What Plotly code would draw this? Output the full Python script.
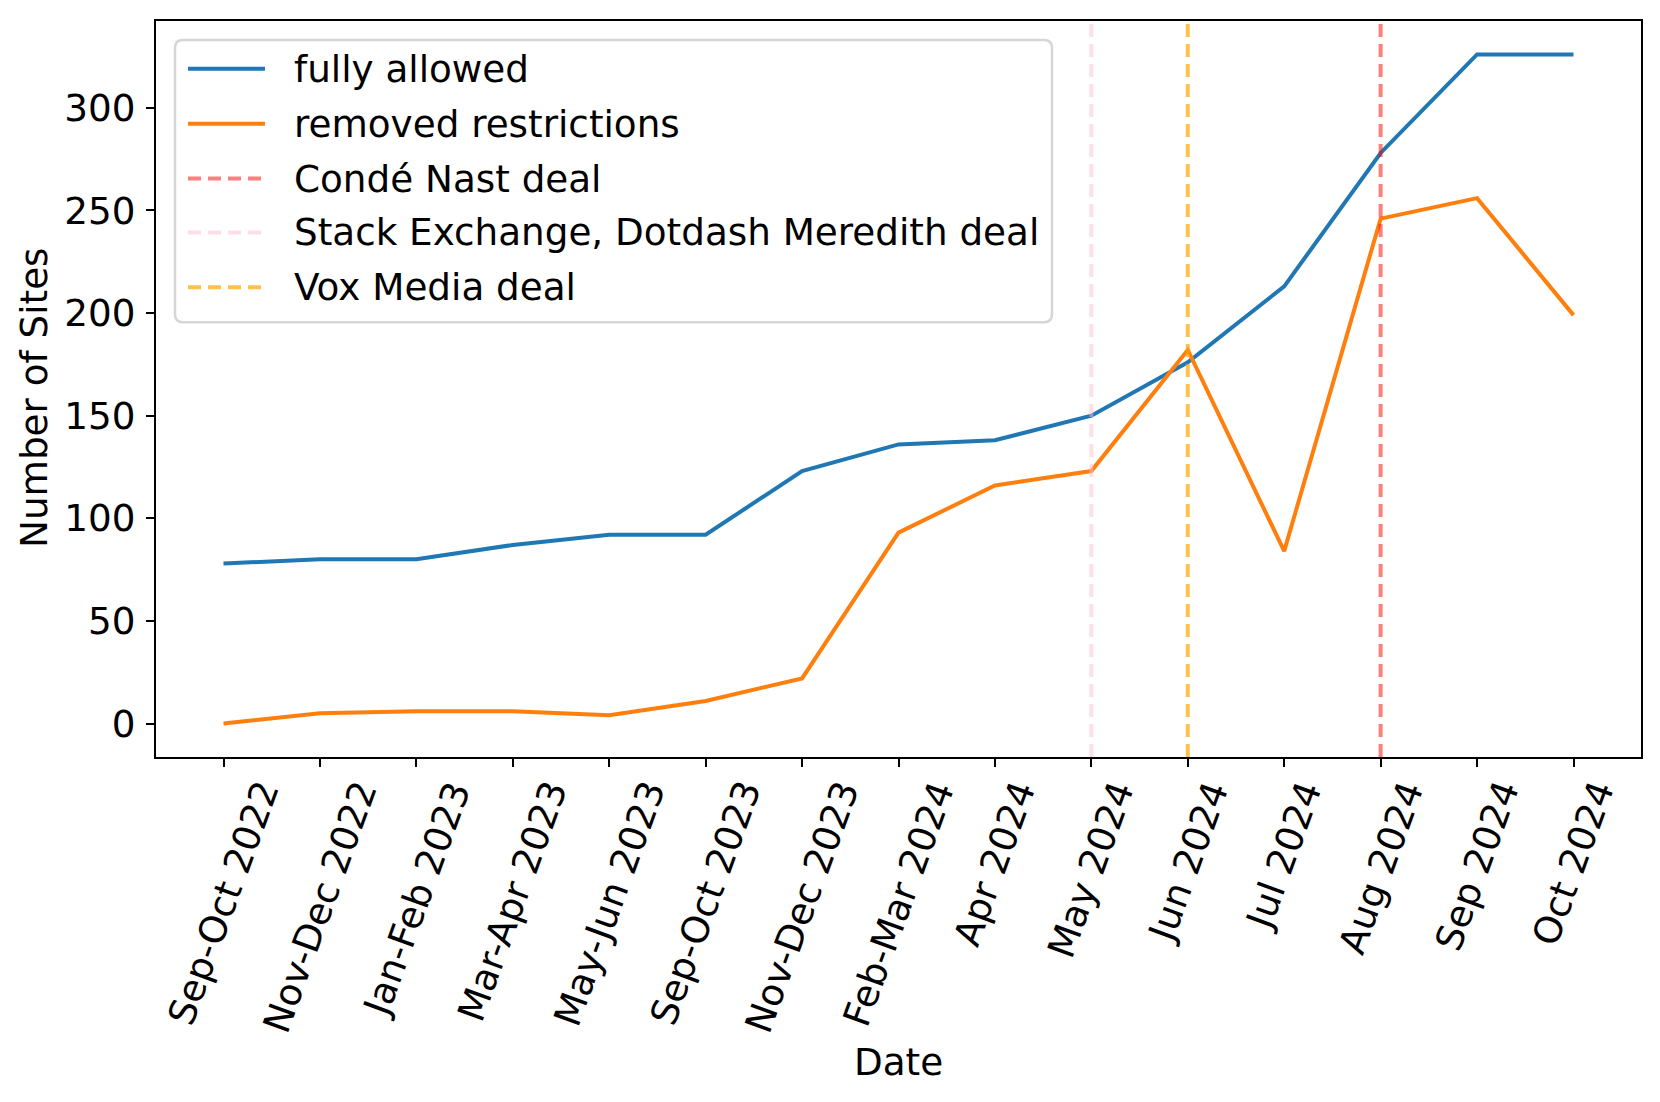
import plotly.graph_objects as go

# ---------------- data ----------------
dates = ["Sep-Oct 2022", "Nov-Dec 2022", "Jan-Feb 2023", "Mar-Apr 2023", "May-Jun 2023",
         "Sep-Oct 2023", "Nov-Dec 2023", "Feb-Mar 2024", "Apr 2024", "May 2024",
         "Jun 2024", "Jul 2024", "Aug 2024", "Sep 2024", "Oct 2024"]
fully_allowed = [78, 80, 80, 87, 92, 92, 123, 136, 138, 150, 176, 213, 278, 326, 326]
removed_restrictions = [0, 5, 6, 6, 4, 11, 22, 93, 116, 123, 182, 84, 246, 256, 199]

series_names = ["fully allowed", "removed restrictions"]
series_colors = ["#1f77b4", "#ff7f0e"]

event_names = ["Condé Nast deal", "Stack Exchange, Dotdash Meredith deal", "Vox Media deal"]
event_dates = ["Aug 2024", "May 2024", "Jun 2024"]
event_colors = ["rgba(255,0,0,0.5)", "rgba(255,192,203,0.5)", "rgba(255,165,0,0.7)"]

y_ticks = [0, 50, 100, 150, 200, 250, 300]

# ---------------- layout geometry (page pixels) ----------------
OFF = 8  # default body margin of the html page
W, H = 1652, 1094
ML, MR, MT, MB = 156 - OFF, 19, 19 - OFF, 345
PW, PH = W - ML - MR, H - MT - MB
FONT = "DejaVu Sans"
FS = 37.3


def px_x(p):
    return (p - OFF - ML) / PW


def px_y(p):
    return 1 - (p - OFF - MT) / PH


fig = go.Figure()
x_idx = list(range(len(dates)))
for name, vals, col in zip(series_names, [fully_allowed, removed_restrictions], series_colors):
    fig.add_trace(go.Scatter(x=x_idx, y=vals, mode="lines", name=name,
                             line=dict(color=col, width=4), showlegend=False,
                             hoverinfo="skip"))

# vertical event lines
for name, d, col in zip(event_names, event_dates, event_colors):
    xi = dates.index(d)
    fig.add_shape(type="line", xref="x", yref="paper", x0=xi, x1=xi, y0=0, y1=1,
                  line=dict(color=col, width=4, dash="13px,7px"), layer="above")

# y range as matplotlib autoscale (5% margin)
all_vals = fully_allowed + removed_restrictions
lo, hi = min(all_vals), max(all_vals)
pad = 0.05 * (hi - lo)

# x tick labels rotated 70 degrees, centred on tick, top-anchored
annotations = []
for i, lab in enumerate(dates):
    annotations.append(dict(x=i, xref="x", y=px_y(773), yref="paper", text=lab,
                            textangle=-70, xanchor="center", yanchor="top",
                            showarrow=False, font=dict(family=FONT, size=FS, color="black")))

# axis titles
annotations.append(dict(x=0.5, xref="paper", y=px_y(1063), yref="paper", text="Date",
                        xanchor="center", yanchor="middle", showarrow=False,
                        font=dict(family=FONT, size=FS, color="black")))
annotations.append(dict(x=px_x(34), xref="paper", y=px_y(396), yref="paper",
                        text="Number of Sites", textangle=-90, xanchor="center",
                        yanchor="middle", showarrow=False,
                        font=dict(family=FONT, size=FS, color="black")))

# ---------------- manual legend (matplotlib style) ----------------
lx0, lx1, ly0, ly1 = 175, 1052, 38, 321
r = 8
path = (f"M {px_x(lx0 + r)},{px_y(ly0)} L {px_x(lx1 - r)},{px_y(ly0)} "
        f"Q {px_x(lx1)},{px_y(ly0)} {px_x(lx1)},{px_y(ly0 + r)} "
        f"L {px_x(lx1)},{px_y(ly1 - r)} Q {px_x(lx1)},{px_y(ly1)} {px_x(lx1 - r)},{px_y(ly1)} "
        f"L {px_x(lx0 + r)},{px_y(ly1)} Q {px_x(lx0)},{px_y(ly1)} {px_x(lx0)},{px_y(ly1 - r)} "
        f"L {px_x(lx0)},{px_y(ly0 + r)} Q {px_x(lx0)},{px_y(ly0)} {px_x(lx0 + r)},{px_y(ly0)} Z")
fig.add_shape(type="path", xref="paper", yref="paper", path=path,
              fillcolor="rgba(255,255,255,0.8)", line=dict(color="rgba(204,204,204,0.8)", width=2.5),
              layer="above")

legend_names = series_names + event_names
legend_colors = series_colors + event_colors
legend_dash = ["solid", "solid", "13px,7px", "13px,7px", "13px,7px"]
row_y = [67, 122, 177, 231, 286]
for nm, col, ds, ry in zip(legend_names, legend_colors, legend_dash, row_y):
    fig.add_shape(type="line", xref="paper", yref="paper", x0=px_x(188), x1=px_x(265),
                  y0=px_y(ry), y1=px_y(ry), line=dict(color=col, width=4, dash=ds), layer="above")
    annotations.append(dict(x=px_x(292), xref="paper", y=px_y(ry), yref="paper", text=nm,
                            xanchor="left", yanchor="middle", showarrow=False,
                            font=dict(family=FONT, size=FS, color="black")))

fig.update_layout(
    width=W, height=H,
    margin=dict(l=ML, r=MR, t=MT, b=MB),
    paper_bgcolor="white", plot_bgcolor="white",
    showlegend=False,
    annotations=annotations,
    font=dict(family=FONT, size=FS, color="black"),
)
fig.update_xaxes(range=[-0.7, len(dates) - 1 + 0.7], tickvals=x_idx, ticktext=[""] * len(dates),
                 showticklabels=False, ticks="outside", ticklen=8, tickwidth=2, tickcolor="black",
                 showline=True, linecolor="black", linewidth=2, mirror=True,
                 showgrid=False, zeroline=False)
fig.update_yaxes(range=[lo - pad, hi + pad], tickvals=y_ticks,
                 ticks="outside", ticklen=8, tickwidth=2, tickcolor="black",
                 ticklabelstandoff=3,
                 tickfont=dict(family=FONT, size=FS, color="black"),
                 showline=True, linecolor="black", linewidth=2, mirror=True,
                 showgrid=False, zeroline=False)

fig.write_html("out.html")
